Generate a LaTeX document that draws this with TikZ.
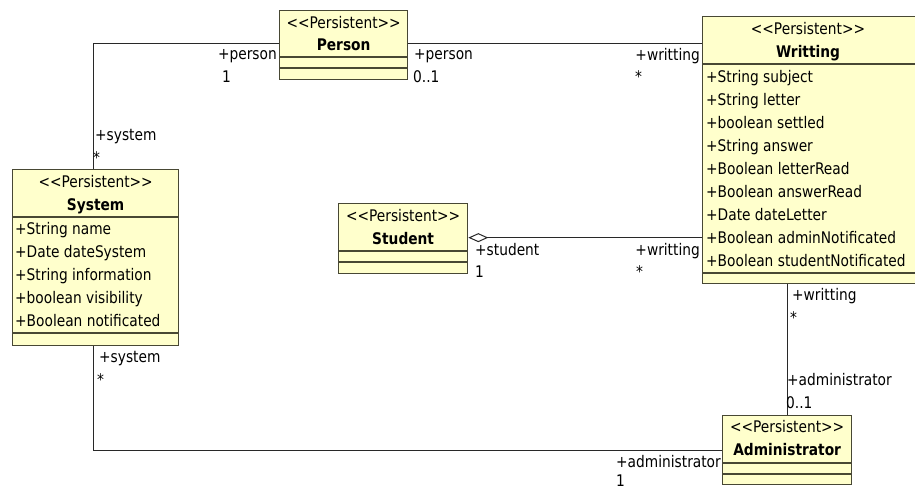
\documentclass[tikz,border=0pt]{standalone}
\usepackage{fontspec}
\setmainfont{DejaVu Sans}[FakeStretch=0.86]
\usetikzlibrary{arrows.meta}
\definecolor{classfill}{RGB}{255,255,204}
\definecolor{classedge}{RGB}{72,72,52}
\definecolor{wire}{RGB}{40,40,40}
% stereotype text, with the guillemet ligature broken up
\newcommand\stereoP{<{}<Persistent>{}>}
\begin{document}
\begin{tikzpicture}[x=1pt,y=-1pt,
  classbox/.style={draw=classedge, fill=classfill, line width=1.3pt, inner sep=0pt, anchor=north west},
  sep/.style={draw=classedge, line width=1.3pt},
  txt/.style={inner sep=0pt, font=\fontsize{16}{19}\selectfont, text=black},
  stereo/.style={txt, anchor=base},
  cname/.style={txt, anchor=base, font=\fontsize{16}{19}\selectfont\bfseries},
  attr/.style={txt, anchor=base west},
  role/.style={txt, anchor=base west},
  roleR/.style={txt, anchor=base east},
  assoc/.style={draw=wire, line width=1pt},
]
\useasboundingbox (0,0) rectangle (915,488);

% ---------- class boxes ----------
\node[classbox, minimum width=128pt, minimum height=69pt]  (person)   at (279,10)  {};
\node[classbox, minimum width=220pt, minimum height=267pt] (writting) at (702,16)  {};
\node[classbox, minimum width=166pt, minimum height=176pt] (system)   at (12,169)  {};
\node[classbox, minimum width=129pt, minimum height=70pt]  (student)  at (338,203) {};
\node[classbox, minimum width=129pt, minimum height=69pt]  (admin)    at (722,415) {};

% ---------- associations ----------
\draw[assoc] ([yshift=1.5pt]person.west) -| ([xshift=-2pt]system.north);
\draw[assoc] ([yshift=1.5pt]person.east) -- ([yshift=1.5pt]person.east -| writting.west);
\draw[assoc, {Diamond[open, length=20pt, width=9pt]}-] ([yshift=1pt]student.east) -- ([yshift=1pt]student.east -| writting.west);
\draw[assoc] (admin.north) -- (admin.north |- writting.south);
\draw[assoc] ([xshift=-2pt]system.south) |- (admin.west);

% ---------- Person ----------
\draw[sep] (person.west |- 0,57) -- (person.east |- 0,57);
\draw[sep] (person.west |- 0,68) -- (person.east |- 0,68);
\node[stereo] (personSt) at (person.north |- 0,28) {\stereoP};
\node[cname]  (personNm) at (person.north |- 0,50) {Person};

% ---------- Writting ----------
\draw[sep] (writting.west |- 0,64)  -- (writting.east |- 0,64);
\draw[sep] (writting.west |- 0,273) -- (writting.east |- 0,273);
\node[stereo] (writtingSt) at (808,34) {\stereoP};
\node[cname]  (writtingNm) at (808,57) {Writting};
\node[attr] (w1) at (706,82)  {+String subject};
\node[attr] (w2) at (706,105) {+String letter};
\node[attr] (w3) at (706,128) {+boolean settled};
\node[attr] (w4) at (706,151) {+String answer};
\node[attr] (w5) at (706,174) {+Boolean letterRead};
\node[attr] (w6) at (706,197) {+Boolean answerRead};
\node[attr] (w7) at (706,220) {+Date dateLetter};
\node[attr] (w8) at (706,243) {+Boolean adminNotificated};
\node[attr] (w9) at (706,266) {+Boolean studentNotificated};

% ---------- System ----------
\draw[sep] (system.west |- 0,217) -- (system.east |- 0,217);
\draw[sep] (system.west |- 0,333) -- (system.east |- 0,333);
\node[stereo] (systemSt) at (system.north |- 0,187) {\stereoP};
\node[cname]  (systemNm) at (system.north |- 0,210) {System};
\node[attr] (s1) at (15,234) {+String name};
\node[attr] (s2) at (15,257) {+Date dateSystem};
\node[attr] (s3) at (15,280) {+String information};
\node[attr] (s4) at (15,303) {+boolean visibility};
\node[attr] (s5) at (15,326) {+Boolean notificated};

% ---------- Student ----------
\draw[sep] (student.west |- 0,251) -- (student.east |- 0,251);
\draw[sep] (student.west |- 0,262) -- (student.east |- 0,262);
\node[stereo] (studentSt) at (student.north |- 0,221) {\stereoP};
\node[cname]  (studentNm) at (student.north |- 0,244) {Student};

% ---------- Administrator ----------
\draw[sep] (admin.west |- 0,463) -- (admin.east |- 0,463);
\draw[sep] (admin.west |- 0,474) -- (admin.east |- 0,474);
\node[stereo] (adminSt) at (admin.north |- 0,432) {\stereoP};
\node[cname]  (adminNm) at (admin.north |- 0,455) {Administrator};

% ---------- role names and multiplicities ----------
\node[roleR] (rPersonL)  at (277,59)  {+person};
\node[role]  (mPersonL)  at (222,82)  {1};
\node[role]  (rPersonR)  at (414,59)  {+person};
\node[role]  (mPersonR)  at (413,82)  {0..1};
\node[roleR] (rWritTop)  at (700,60)  {+writting};
\node[role]  (mWritTop)  at (635,82)  {*};
\node[role]  (rSysTop)   at (95,140)  {+system};
\node[role]  (mSysTop)   at (93,163)  {*};
\node[role]  (rStudent)  at (475,255) {+student};
\node[role]  (mStudent)  at (475,277) {1};
\node[roleR] (rWritMid)  at (700,255) {+writting};
\node[role]  (mWritMid)  at (636,277) {*};
\node[role]  (rWritBot)  at (792,300) {+writting};
\node[role]  (mWritBot)  at (790,323) {*};
\node[role]  (rAdminTop) at (787,385) {+administrator};
\node[role]  (mAdminTop) at (786,408) {0..1};
\node[role]  (rSysBot)   at (99,362)  {+system};
\node[role]  (mSysBot)   at (97,385)  {*};
\node[roleR] (rAdminL)   at (721,467) {+administrator};
\node[role]  (mAdminL)   at (616,486) {1};
\end{tikzpicture}
\end{document}
